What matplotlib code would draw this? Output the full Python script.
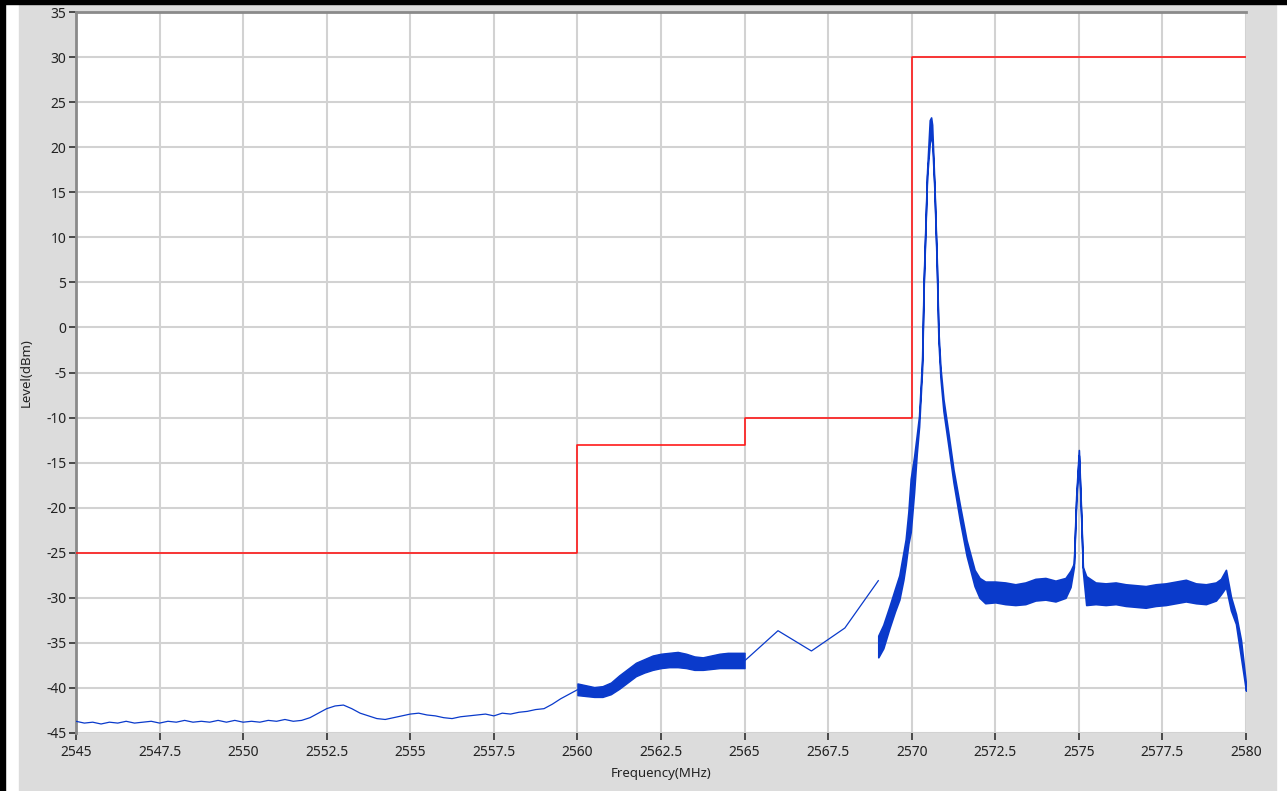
import matplotlib.pyplot as plt
from matplotlib.patches import Rectangle

plt.rcParams['axes.unicode_minus'] = False

# limit mask (step)
mask_freq = [2545, 2560, 2560, 2565, 2565, 2570, 2570, 2580]
mask_level = [-25, -25, -13, -13, -10, -10, 30, 30]

# thin trace 2545 - 2560 MHz
low_freq = [2545.0, 2545.25, 2545.5, 2545.75, 2546.0, 2546.25, 2546.5, 2546.75,
            2547.0, 2547.25, 2547.5, 2547.75, 2548.0, 2548.25, 2548.5, 2548.75,
            2549.0, 2549.25, 2549.5, 2549.75, 2550.0, 2550.25, 2550.5, 2550.75,
            2551.0, 2551.25, 2551.5, 2551.75, 2552.0, 2552.25, 2552.5, 2552.75,
            2553.0, 2553.25, 2553.5, 2553.75, 2554.0, 2554.25, 2554.5, 2554.75,
            2555.0, 2555.25, 2555.5, 2555.75, 2556.0, 2556.25, 2556.5, 2556.75,
            2557.0, 2557.25, 2557.5, 2557.75, 2558.0, 2558.25, 2558.5, 2558.75,
            2559.0, 2559.25, 2559.5, 2559.75, 2560.0]
low_level = [-43.7, -43.9, -43.8, -44.0, -43.8, -43.9, -43.7, -43.9,
             -43.8, -43.7, -43.9, -43.7, -43.8, -43.6, -43.8, -43.7,
             -43.8, -43.6, -43.8, -43.6, -43.8, -43.7, -43.8, -43.6,
             -43.7, -43.5, -43.7, -43.6, -43.3, -42.8, -42.3, -42.0,
             -41.9, -42.3, -42.8, -43.1, -43.4, -43.5, -43.3, -43.1,
             -42.9, -42.8, -43.0, -43.1, -43.3, -43.4, -43.2, -43.1,
             -43.0, -42.9, -43.1, -42.8, -42.9, -42.7, -42.6, -42.4,
             -42.3, -41.8, -41.2, -40.7, -40.2]

# dense band 2560 - 2565 MHz (upper / lower envelope)
band1_freq = [2560.0, 2560.25, 2560.5, 2560.75, 2561.0, 2561.25, 2561.5, 2561.75,
              2562.0, 2562.25, 2562.5, 2562.75, 2563.0, 2563.25, 2563.5, 2563.75,
              2564.0, 2564.25, 2564.5, 2564.75, 2565.0]
band1_hi = [-39.5, -39.7, -39.9, -39.8, -39.4, -38.6, -37.9, -37.2,
            -36.8, -36.4, -36.2, -36.1, -36.0, -36.2, -36.5, -36.6,
            -36.4, -36.2, -36.1, -36.1, -36.1]
band1_lo = [-40.8, -40.9, -41.0, -41.0, -40.7, -40.1, -39.4, -38.7,
            -38.3, -38.0, -37.8, -37.7, -37.7, -37.8, -38.0, -38.0,
            -37.9, -37.8, -37.8, -37.8, -37.8]

# coarse points 2565 - 2569 MHz
mid_freq = [2565.0, 2566.0, 2567.0, 2568.0, 2569.0]
mid_level = [-37.0, -33.65, -35.9, -33.35, -28.1]

# dense band 2569 - 2580 MHz (carrier + spur)
band2_freq = [2569.0, 2569.15, 2569.33, 2569.5, 2569.63, 2569.75, 2569.82, 2569.9,
              2569.97, 2570.07, 2570.15, 2570.22, 2570.31, 2570.36, 2570.46, 2570.54,
              2570.58, 2570.61, 2570.68, 2570.75, 2570.8, 2570.86, 2570.95, 2571.1,
              2571.25, 2571.44, 2571.64, 2571.88, 2572.03, 2572.2, 2572.5, 2572.8,
              2573.1, 2573.4, 2573.7, 2574.0, 2574.3, 2574.6, 2574.75, 2574.85,
              2574.92, 2575.0, 2575.07, 2575.12, 2575.22, 2575.5, 2575.8, 2576.1,
              2576.4, 2576.7, 2577.0, 2577.3, 2577.6, 2577.9, 2578.2, 2578.5,
              2578.8, 2579.1, 2579.25, 2579.4, 2579.55, 2579.7, 2579.85, 2580.0]
band2_hi = [-34.2, -33.0, -31.0, -29.0, -27.5, -25.0, -23.5, -20.5,
            -16.8, -14.4, -12.0, -9.8, -3.6, 5.4, 17.3, 23.0,
            23.3, 22.5, 15.7, 7.4, -0.5, -4.5, -8.0, -11.8,
            -15.8, -19.7, -23.6, -26.9, -27.8, -28.2, -28.2, -28.3,
            -28.5, -28.3, -27.9, -27.8, -28.1, -27.8, -27.0, -26.2,
            -18.8, -13.6, -20.7, -26.6, -27.6, -28.3, -28.4, -28.3,
            -28.5, -28.6, -28.7, -28.5, -28.4, -28.2, -28.0, -28.4,
            -28.5, -28.3, -27.9, -26.9, -29.9, -31.8, -34.7, -39.6]
band2_lo = [-36.6, -35.6, -33.4, -31.5, -30.2, -28.0, -26.3, -24.0,
            -22.7, -18.3, -14.0, -11.0, -4.6, 4.8, 16.8, 20.5,
            21.0, 20.8, 15.2, 6.8, -1.5, -5.6, -9.3, -13.2,
            -17.2, -21.4, -25.3, -28.7, -30.0, -30.6, -30.5, -30.7,
            -30.8, -30.7, -30.3, -30.2, -30.4, -30.0, -28.8, -26.6,
            -19.4, -14.2, -21.2, -27.0, -30.8, -30.7, -30.8, -30.7,
            -30.9, -31.0, -31.1, -30.9, -30.8, -30.6, -30.4, -30.6,
            -30.7, -30.3, -29.6, -28.8, -31.4, -32.9, -36.6, -40.3]

x_ticks = [2545, 2547.5, 2550, 2552.5, 2555, 2557.5, 2560, 2562.5, 2565,
           2567.5, 2570, 2572.5, 2575, 2577.5, 2580]
x_labels = ['2545', '2547.5', '2550', '2552.5', '2555', '2557.5', '2560', '2562.5',
            '2565', '2567.5', '2570', '2572.5', '2575', '2577.5', '2580']
y_ticks = list(range(-45, 36, 5))

W, H = 1287, 791
fig = plt.figure(figsize=(W / 100, H / 100), dpi=100, facecolor='white')

# window frame: gray panel, black edge top/left
fig.patches.append(Rectangle((19 / W, 0), (1276 - 19) / W, (H - 5) / H,
                             transform=fig.transFigure, color='#dcdcdc', zorder=-10))
fig.patches.append(Rectangle((0, (H - 4) / H), 1, 4 / H,
                             transform=fig.transFigure, color='black', zorder=-9))
fig.patches.append(Rectangle((0, 0), 5 / W, 1,
                             transform=fig.transFigure, color='black', zorder=-9))

ax = fig.add_axes([76 / W, (H - 733) / H, (1246 - 76) / W, (733 - 12) / H])
ax.set_facecolor('white')
ax.set_zorder(5)

blue = '#0a3acb'
ax.plot(mask_freq, mask_level, color='#ff1a1a', lw=1.2, zorder=3)
ax.plot(low_freq, low_level, color=blue, lw=0.9, zorder=4)
ax.fill_between(band1_freq, band1_lo, band1_hi, color=blue, lw=1.0, zorder=4)
ax.plot(mid_freq, mid_level, color=blue, lw=0.9, zorder=4)
ax.fill_between(band2_freq, band2_lo, band2_hi, facecolor=blue, edgecolor=blue,
                lw=1.2, zorder=4)

ax.set_xlim(2545, 2580)
ax.set_ylim(-45, 35)
ax.set_xticks(x_ticks)
ax.set_xticklabels(x_labels)
ax.set_yticks(y_ticks)
ax.grid(True, color='#d2d2d2', lw=1.5)
ax.set_axisbelow(True)

for s in ['right', 'bottom']:
    ax.spines[s].set_visible(False)
for s in ['left', 'top']:
    ax.spines[s].set_color('#8a8a8a')
    ax.spines[s].set_linewidth(2)

ax.tick_params(axis='both', direction='out', length=5, width=1.2, color='#303030',
               labelsize=10, labelcolor='#222222', pad=2)
ax.tick_params(axis='x', pad=4, top=False)
for lab in ax.get_xticklabels() + ax.get_yticklabels():
    lab.set_family(['Noto Sans', 'DejaVu Sans'])

ax.set_xlabel('Frequency(MHz)', fontsize=9.5, color='#222222', family=['Noto Sans', 'DejaVu Sans'])
ax.set_ylabel('Level(dBm)', fontsize=9.5, color='#222222', family=['Noto Sans', 'DejaVu Sans'])
ax.xaxis.set_label_coords(0.5, -0.047)
ax.yaxis.set_label_coords(-0.037, 0.5)

fig.savefig('out.png', dpi=100, facecolor='white')
